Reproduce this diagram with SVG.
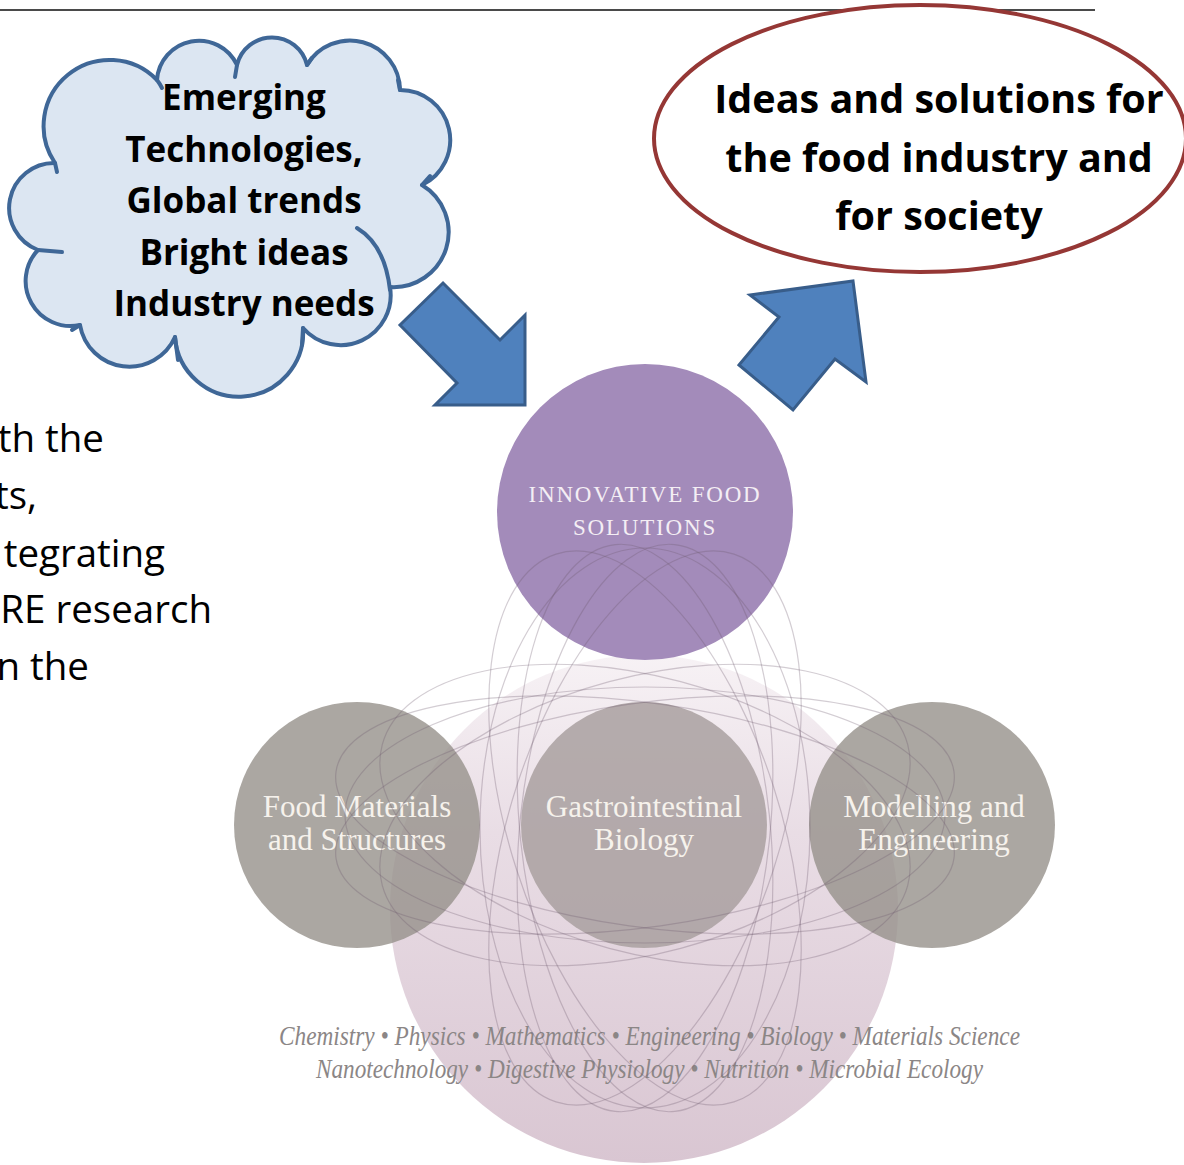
<svg xmlns="http://www.w3.org/2000/svg" width="1184" height="1165" viewBox="0 0 1184 1165">
<defs>
<linearGradient id="pinkGrad" x1="0" y1="0" x2="0" y2="1">
<stop offset="0" stop-color="#f7f2f5"/>
<stop offset="0.35" stop-color="#e9dde5"/>
<stop offset="1" stop-color="#d9c6d2"/>
</linearGradient>
<style>
.bold { font-family: "Open Sans", "Liberation Sans", sans-serif; font-weight: 700; fill: #000; text-anchor: middle; }
.side { font-family: "Open Sans", "Liberation Sans", sans-serif; font-size: 38.5px; fill: #000; text-anchor: end; }
.lbl { font-family: "Liberation Serif", "DejaVu Serif", serif; font-size: 31px; fill: #f6f2ec; text-anchor: middle; }
.caps { font-family: "Liberation Serif", "DejaVu Serif", serif; font-size: 23px; letter-spacing: 1.8px; fill: #f4eef4; text-anchor: middle; }
.disc { font-family: "Liberation Serif", "DejaVu Serif", serif; font-style: italic; font-size: 27px; fill: #8b8686; }
.orbit { fill: none; stroke: #6e5a6e; stroke-opacity: 0.3; stroke-width: 1.2; }
.arrow { fill: #4f81bd; stroke: #385d8a; stroke-width: 3; stroke-linejoin: miter; }
.grey { fill: #96918b; fill-opacity: 0.8; }
.cloudline { fill: none; stroke: #3f6797; stroke-width: 4; stroke-linecap: round; }
</style>
</defs>

<rect width="1184" height="1165" fill="#ffffff"/>
<line x1="0" y1="10" x2="1095" y2="10" stroke="#4a4a4a" stroke-width="2"/>

<g id="left-text">
<text class="side" x="104" y="452">th the</text>
<text class="side" x="37" y="509">ts,</text>
<text class="side" x="165" y="567">tegrating</text>
<text class="side" x="212" y="623">RE research</text>
<text class="side" x="89" y="680">n the</text>
</g>

<g id="disciplines">
<circle cx="644" cy="909" r="254" fill="url(#pinkGrad)"/>
<text class="disc" x="279" y="1045" textLength="741" lengthAdjust="spacingAndGlyphs">Chemistry • Physics • Mathematics • Engineering • Biology • Materials Science</text>
<text class="disc" x="316" y="1078" textLength="667" lengthAdjust="spacingAndGlyphs">Nanotechnology • Digestive Physiology • Nutrition • Microbial Ecology</text>
</g>

<g id="food-materials">
<circle class="grey" cx="357" cy="825" r="123"/>
<text class="lbl" x="357" y="817">Food Materials</text>
<text class="lbl" x="357" y="850">and Structures</text>
</g>

<g id="gastro">
<circle cx="644" cy="825" r="123" fill="#a9a0a0" fill-opacity="0.85"/>
<text class="lbl" x="644" y="817">Gastrointestinal</text>
<text class="lbl" x="644" y="850">Biology</text>
</g>

<g id="modelling">
<circle class="grey" cx="932" cy="825" r="123"/>
<text class="lbl" x="934" y="817">Modelling and</text>
<text class="lbl" x="934" y="850">Engineering</text>
</g>

<g id="innovative">
<circle cx="645" cy="512" r="148" fill="#a38bba"/>
<text class="caps" x="645" y="502">INNOVATIVE FOOD</text>
<text class="caps" x="645" y="535">SOLUTIONS</text>
</g>

<g id="orbits">
<ellipse class="orbit" cx="645" cy="815" rx="300" ry="128"/>
<ellipse class="orbit" cx="645" cy="815" rx="312" ry="112" transform="rotate(8 645 815)"/>
<ellipse class="orbit" cx="645" cy="815" rx="312" ry="112" transform="rotate(-8 645 815)"/>
<ellipse class="orbit" cx="645" cy="815" rx="272" ry="138" transform="rotate(15 645 815)"/>
<ellipse class="orbit" cx="645" cy="815" rx="272" ry="138" transform="rotate(-15 645 815)"/>
<ellipse class="orbit" cx="645" cy="828" rx="135" ry="288" transform="rotate(18 645 828)"/>
<ellipse class="orbit" cx="645" cy="828" rx="135" ry="288" transform="rotate(-18 645 828)"/>
<ellipse class="orbit" cx="645" cy="828" rx="125" ry="285" transform="rotate(6 645 828)"/>
<ellipse class="orbit" cx="645" cy="828" rx="125" ry="285" transform="rotate(-6 645 828)"/>
<ellipse class="orbit" cx="645" cy="828" rx="165" ry="280"/>
</g>

<g id="cloud">
<path d="M55,163 A66,66 0 0 1 157,80 A42,42 0 0 1 237,65 A36,36 0 0 1 307,65 A50,50 0 0 1 400,90 A50,50 0 0 1 422,185 A55,55 0 0 1 390,287 A50,50 0 0 1 303,328 A64,64 0 0 1 175,337 A50,50 0 0 1 80,325 A45,45 0 0 1 38,250 A45,45 0 0 1 55,163 Z" fill="#dce6f2" stroke="#3f6797" stroke-width="4" stroke-linejoin="round"/>
<path class="cloudline" d="M55,163 L57,172"/>
<path class="cloudline" d="M157,80 Q160,84 162,88"/>
<path class="cloudline" d="M237,65 L235,77"/>
<path class="cloudline" d="M307,65 L312,58"/>
<path class="cloudline" d="M400,90 L398,80"/>
<path class="cloudline" d="M422,185 L430,176"/>
<path class="cloudline" d="M357,228 Q385,245 390,290"/>
<path class="cloudline" d="M303,328 L302,345"/>
<path class="cloudline" d="M175,337 L178,360"/>
<path class="cloudline" d="M80,325 L72,330"/>
<path class="cloudline" d="M38,250 L62,252"/>
<text class="bold" font-size="35" x="244" y="110">Emerging</text>
<text class="bold" font-size="35" x="244" y="162">Technologies,</text>
<text class="bold" font-size="35" x="244" y="213">Global trends</text>
<text class="bold" font-size="35" x="244" y="265">Bright ideas</text>
<text class="bold" font-size="35" x="244" y="316">Industry needs</text>
</g>

<g id="outcome">
<ellipse cx="920" cy="138.5" rx="266" ry="133.5" fill="#ffffff" stroke="#953735" stroke-width="4"/>
<text class="bold" font-size="39.5" x="939" y="113">Ideas and solutions for</text>
<text class="bold" font-size="39.5" x="939" y="172">the food industry and</text>
<text class="bold" font-size="39.5" x="939" y="230">for society</text>
</g>

<g id="connectors">
<polygon class="arrow" points="443,283 500,340 525,315 525,405 435,405 457,383 400,325"/>
<polygon class="arrow" points="739,365 779,317 750,295 853,281 866,382 835,359 793,410"/>
</g>
</svg>
